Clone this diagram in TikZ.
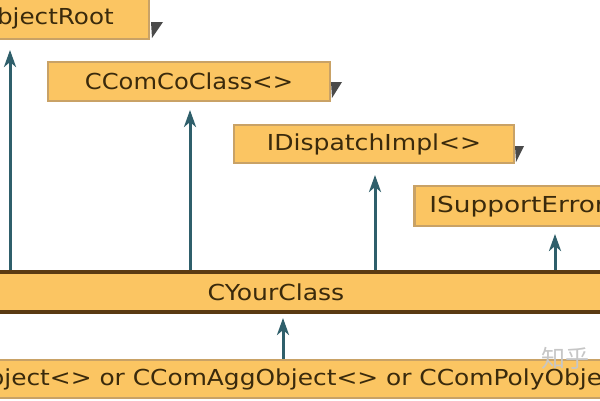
\documentclass[tikz,border=0pt]{standalone}
\usepackage{fontspec}
\setmainfont{DejaVu Sans}
\newfontfamily\cjk{Noto Sans CJK SC}
\usetikzlibrary{arrows.meta}
\definecolor{boxfill}{HTML}{FBC562}
\definecolor{boxline}{HTML}{C9A266}
\definecolor{barline}{HTML}{5A3A12}
\definecolor{arrowc}{HTML}{2F5F6B}
\definecolor{txtc}{HTML}{3A2A0C}
\definecolor{shadowc}{HTML}{4A4A4A}
\newcommand{\lbl}[2][1.12]{\scalebox{#1}[1]{#2}}
\begin{document}
\begin{tikzpicture}[x=1pt,y=-1pt,
  box/.style={draw=boxline, line width=2.5pt, fill=boxfill, inner ysep=0pt,
    text=txtc, font=\fontsize{22}{22}\selectfont},
  bar/.style={box, draw=barline, line width=3.5pt},
  lowbar/.style={box, draw=boxline, line width=2.5pt},
  arr/.style={draw=arrowc, line width=3pt, -{Stealth[length=17pt,width=12pt,inset=5pt]}},
  shadowtri/.style={fill=shadowc}]
\useasboundingbox (0,0) rectangle (600,400);
\clip (0,0) rectangle (600,400);
\fill[white] (0,0) rectangle (600,400);

% boxes
\node[box, anchor=east, minimum height=42pt, inner xsep=35pt] (b1) at (150,18) {\lbl{CComObjectRoot}};
\node[box, minimum width=282pt, minimum height=39pt] (b2) at (189,81.5) {\lbl[1.1]{CComCoClass<>}};
\node[box, minimum width=280pt, minimum height=38pt] (b3) at (374,144) {\lbl[1.14]{IDispatchImpl<>}};
\node[box, anchor=west, minimum height=40pt, inner xsep=15pt] (b4) at (413,206) {\lbl[1.2]{ISupportErrorInfo}};

% shadow corners
\fill[shadowtri] (151,22) -- (163,22) -- (152,38) -- cycle;
\fill[shadowtri] (331,82) -- (342,82) -- (332,98) -- cycle;
\fill[shadowtri] (515,146) -- (524,146) -- (516,162) -- cycle;

% main bars
\node[bar, minimum width=672pt, minimum height=40pt] (cls) at (276,292) {\lbl[1.14]{CYourClass}};
\node[lowbar, minimum width=900pt, minimum height=38pt] (obj) at (281,379) {\lbl[1.13]{CComObject<> or CComAggObject<> or CComPolyObject<>}};

% arrow tips
\coordinate (t1) at (10,50);
\coordinate (t2) at (190,110);
\coordinate (t3) at (375,175);
\coordinate (t4) at (555,234);
\coordinate (t5) at (283,318);

\draw[arr] (cls.north -| t1) -- (t1);
\draw[arr] (cls.north -| t2) -- (t2);
\draw[arr] (cls.north -| t3) -- (t3);
\draw[arr] (cls.north -| t4) -- (t4);
\draw[arr] (obj.north -| t5) -- (t5);

% watermark
\node[text=gray!45, font=\cjk\fontsize{24}{24}\selectfont, inner sep=0pt] (wm) at (565,358) {知乎};
\end{tikzpicture}
\end{document}
